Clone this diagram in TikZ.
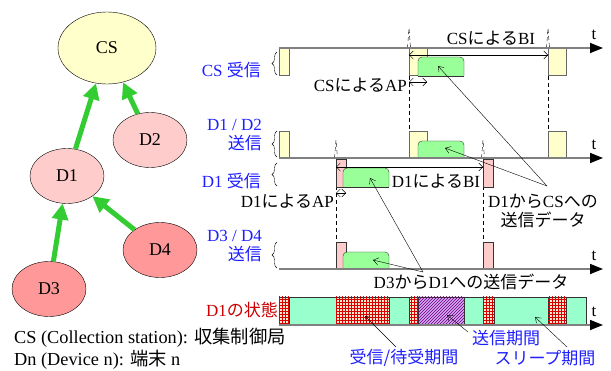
\documentclass[tikz,border=0pt]{standalone}
\usepackage{fontspec}
\setmainfont{Liberation Serif}
\newfontfamily\jp{Noto Sans CJK JP}
\usepackage{xcolor}
\usetikzlibrary{shapes.geometric, arrows.meta, patterns, decorations.pathreplacing}
\definecolor{csfill}{HTML}{FFFFCC}
\definecolor{dlight}{HTML}{FFCCCC}
\definecolor{ddark}{HTML}{FF9999}
\definecolor{linkgreen}{HTML}{33CC33}
\definecolor{pktgreen}{HTML}{99FF99}
\definecolor{sleepaqua}{HTML}{99FFCC}
\definecolor{rxpeach}{HTML}{FFE6CC}
\definecolor{txviolet}{HTML}{D9A6FF}
\definecolor{lblue}{HTML}{1F1FFF}
\definecolor{lred}{HTML}{CC0000}
\tikzstyle{station} = [ellipse, draw=black, fill=csfill, minimum width=98pt, minimum height=72pt, font=\fontsize{18}{20}\selectfont]
\tikzstyle{device} = [ellipse, draw=black, minimum width=74pt, minimum height=55pt, font=\fontsize{18}{20}\selectfont]
\tikzstyle{link} = [line width=5pt, linkgreen, -{Triangle[length=16pt,width=16pt]}]
\tikzstyle{legend} = [anchor=west, inner sep=0pt, font=\fontsize{18.3}{20}\selectfont]
\tikzstyle{rowlabel} = [lblue, anchor=east, inner sep=0pt, font=\fontsize{17}{18}\selectfont]
\tikzstyle{tlabel} = [inner sep=0pt, font=\fontsize{17}{18}\selectfont]
\tikzstyle{statelabel} = [lblue, inner sep=0pt, font=\fontsize{17}{18}\selectfont]
\tikzstyle{brace} = [decorate, decoration={brace, amplitude=5pt}, thin]
\tikzstyle{guide} = [dashed, thin, dash pattern=on 4pt off 3pt]
\tikzstyle{axis} = [line width=1.5pt, black!50, -{Triangle[length=13pt,width=10pt,color=black]}]
\tikzstyle{span} = [thin, {Straight Barb[length=4pt,width=8pt]}-{Straight Barb[length=4pt,width=8pt]}]
\tikzstyle{note} = [thin, -{Straight Barb[length=5pt,width=7pt]}]
\tikzstyle{csbox} = [draw=black!60, fill=csfill]
\tikzstyle{d1box} = [draw=black!80, fill=dlight]
\tikzstyle{packet} = [draw=black!80, fill=pktgreen, rounded corners=4pt]
\tikzstyle{sleepseg} = [draw=black!80, fill=sleepaqua]
\tikzstyle{rxseg} = [draw=black!80, fill=rxpeach, postaction={pattern=grid, pattern color=red!85!black}]
\tikzstyle{txseg} = [draw=black!80, fill=txviolet, postaction={pattern=north east lines, pattern color=violet!80!black}]

\begin{document}
\begin{tikzpicture}[x=1pt, y=-1pt]
  \useasboundingbox (0,0) rectangle (611,371);

  % tree of stations
  \node (cs) [station] at (107,48) {CS};
  \node (d2) [device, fill=dlight] at (150,140) {D2};
  \node (d1) [device, fill=dlight] at (67,176) {D1};
  \node (d4) [device, fill=ddark] at (160,250) {D4};
  \node (d3) [device, fill=ddark] at (49,289) {D3};
  \draw[link] (d1) -- (cs);
  \draw[link] (d2) -- (cs);
  \draw[link] (d3) -- (d1);
  \draw[link] (d4) -- (d1);
  \node (legcs) [legend] at (14,338) {CS (Collection station): {\jp 収集制御局}};
  \node (legdn) [legend] at (14,360) {Dn (Device n): {\jp 端末} n};

  % row labels
  \node (lcs) [rowlabel] at (261,70) {CS {\jp 受信}};
  \node (ld12a) [rowlabel] at (262,125) {D1 / D2};
  \node (ld12b) [rowlabel] at (262,143) {\jp 送信};
  \node (ld1) [rowlabel] at (261,181) {D1 {\jp 受信}};
  \node (ld34a) [rowlabel] at (262,236) {D3 / D4};
  \node (ld34b) [rowlabel] at (262,254) {\jp 送信};
  \node (lst) [rowlabel, lred] at (278,310) {D1{\jp の状態}};
  \draw[brace] (277,75) -- (277,52);
  \draw[brace] (277,157) -- (277,131);
  \draw[brace] (277,186) -- (277,163);
  \draw[brace] (277,268) -- (277,242);

  % beacon guides
  \foreach \gx/\gt/\ga/\gb in {409/28/48/158, 548/28/48/158, 336/140/158/269, 483/140/158/269}{
    \draw[guide] (\gx,\ga) -- (\gx,\gb);
    \draw[guide] (\gx-1.5,\ga) -- (\gx,\gt) -- (\gx+1.5,\ga);
  }

  % receive / send windows
  \foreach \bx/\bw in {279/10, 409/18, 548/18}{
    \draw[csbox] (\bx,48) rectangle (\bx+\bw,75);
    \draw[csbox] (\bx,131) rectangle (\bx+\bw,158);
  }
  \foreach \bx in {336, 483}{
    \draw[d1box] (\bx,159) rectangle (\bx+10.5,187);
    \draw[d1box] (\bx,242) rectangle (\bx+10.5,269);
  }
  \foreach \px/\py/\pq in {418/57/76, 418/141/158, 343/168/187, 343/252/269}{
    \filldraw[packet] (\px,\pq) -- (\px,\py) -- (\px+46,\py) -- (\px+46,\pq);
    \draw[black!80] (\px,\pq) -- (\px+46,\pq);
  }

  % D1 state bar
  \foreach \sa/\sb in {289/336, 389/409, 464/483, 494/548, 566/586}
    \draw[sleepseg] (\sa,297) rectangle (\sb,325);
  \foreach \sa/\sb in {279/289, 336/389, 409/418, 483/494, 548/566}
    \draw[rxseg] (\sa,297) rectangle (\sb,325);
  \draw[txseg] (418,297) rectangle (464,325);

  % time axes
  \foreach \ay/\an in {48/tcs, 158/tdd, 269/tee, 325/tst}{
    \draw[axis] (279,\ay) -- (603,\ay);
    \node (\an) [tlabel] at (594,\ay-13) {t};
  }

  % intervals
  \draw[span] (409,55) -- (548,55);
  \node (bics) [tlabel] at (491,38) {CS{\jp による}BI};
  \draw[span] (409,82) -- (427,82);
  \node (apcs) [tlabel, anchor=east] at (407,85) {CS{\jp による}AP};
  \draw[span] (336,167) -- (483,167);
  \node (bid1) [tlabel] at (436,181) {D1{\jp による}BI};
  \draw[span] (336,193) -- (346,193);
  \node (apd1) [tlabel, anchor=east] at (334,201) {D1{\jp による}AP};

  % data annotations
  \node (up) [tlabel, align=center] at (543,211) {D1{\jp から}CS{\jp への}\\[1pt]{\jp 送信データ}};
  \coordinate (upfoot) at (547,186);
  \coordinate (pktcs) at (438,66);
  \coordinate (pktdd) at (445,148);
  \draw[note] (upfoot) -- (pktcs);
  \draw[note] (upfoot) -- (pktdd);
  \node (down) [tlabel] at (471,282) {D3{\jp から}D1{\jp への送信データ}};
  \coordinate (downfoot) at (423,272);
  \coordinate (pktd1) at (370,178);
  \coordinate (pktee) at (373,260);
  \draw[note] (downfoot) -- (pktd1);
  \draw[note] (downfoot) -- (pktee);

  % state legend
  \node (txp) [statelabel] at (506,338) {\jp 送信期間};
  \node (rxp) [statelabel] at (404,358) {\jp 受信/待受期間};
  \node (slp) [statelabel] at (545,358) {\jp スリープ期間};
  \coordinate (txfoot) at (468,332);
  \coordinate (rxfoot) at (396,347);
  \coordinate (slfoot) at (567,347);
  \coordinate (txtip) at (447,315);
  \coordinate (rxtip) at (365,316);
  \coordinate (sltip) at (535,317);
  \draw[note] (txfoot) -- (txtip);
  \draw[note] (rxfoot) -- (rxtip);
  \draw[note] (slfoot) -- (sltip);
\end{tikzpicture}
\end{document}
